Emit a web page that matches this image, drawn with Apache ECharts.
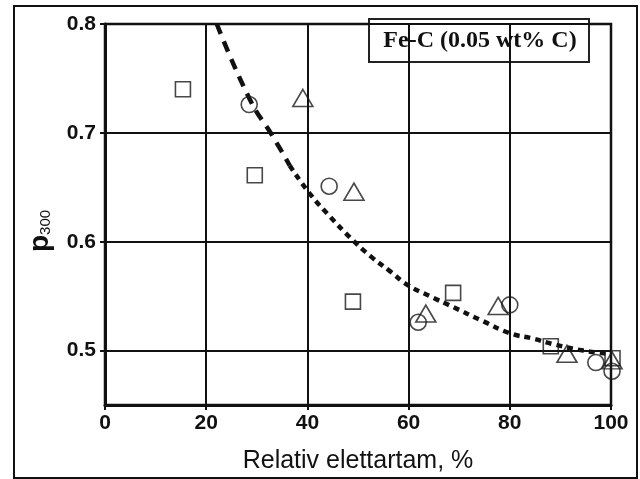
<!DOCTYPE html>
<html><head><meta charset="utf-8">
<script src="https://cdn.jsdelivr.net/npm/echarts@6/dist/echarts.min.js"></script>
<style>html,body{margin:0;padding:0;background:#fff}#c{width:640px;height:479px}</style>
</head><body><div id="c"></div>
<script>
// Data
const squares = [[15.4,0.740],[29.6,0.661],[49.0,0.545],[68.8,0.553],[88.1,0.504],[100.3,0.493]];
const circles = [[28.5,0.726],[44.3,0.651],[61.9,0.526],[80.0,0.542],[97.0,0.489],[100.2,0.481]];
const triangles = [[39.1,0.732],[49.2,0.646],[63.4,0.534],[77.7,0.541],[91.3,0.497],[100.2,0.491]];
// fitted trend curve, upper steep part and lower part
const fitCurveUpper = [[22.1,0.800],[28.7,0.730],[33.0,0.698],[36.5,0.670]];
const fitCurveLower = [[36.5,0.670],[40.5,0.644],[44.5,0.623],[48.4,0.604],[52.4,0.587],[56.3,0.573],[59.9,0.560],[64.2,0.550],[68.8,0.540],[74.7,0.527],[80.0,0.516],[84.6,0.511],[88.5,0.506],[94.5,0.500],[100.0,0.497]];
const xTicks = [0,20,40,60,80,100];
const yTicks = [0.5,0.6,0.7,0.8];
const titleText = 'Fe-C (0.05 wt% C)';
const xName = 'Relativ elettartam, %';

const chart = echarts.init(document.getElementById('c'), null, {renderer:'canvas'});
const markerStyle = {color:'rgba(0,0,0,0)', borderColor:'#1a1a1a', borderWidth:1.6};
const tickFont = {color:'#111', fontFamily:'"Liberation Sans Narrow", "Liberation Sans"', fontWeight:'bold', fontSize:21};
chart.setOption({
  animation:false,
  backgroundColor:'#fff',
  grid:{left:105, right:29, top:24, bottom:72.5, show:true, borderColor:'#111', borderWidth:2.5},
  xAxis:{type:'value', min:0, max:100, interval:20,
    axisLine:{show:true, lineStyle:{color:'#111', width:3}},
    axisTick:{show:true, inside:false, length:5, lineStyle:{color:'#111', width:2}},
    axisLabel:Object.assign({margin:8, customValues:xTicks}, tickFont),
    splitLine:{show:true, lineStyle:{color:'#111', width:2}},
    name:xName, nameLocation:'middle', nameGap:44,
    nameTextStyle:{color:'#111', fontFamily:'Liberation Sans', fontSize:25, verticalAlign:'top'}
  },
  yAxis:{type:'value', min:0.45, max:0.8, interval:0.05,
    axisLine:{show:true, lineStyle:{color:'#111', width:3}},
    axisTick:{show:true, length:5, lineStyle:{color:'#111', width:2}, customValues:yTicks},
    axisLabel:Object.assign({margin:9, customValues:yTicks, formatter:v=>v.toFixed(1)}, tickFont),
    splitLine:{show:true, lineStyle:{color:'#111', width:1.8}}
  },
  graphic:[
    {type:'rect', shape:{x:14,y:6,width:623,height:472}, style:{fill:'none', stroke:'#111', lineWidth:2}, z:100},
    {type:'group', z:120, children:[
      {type:'rect', shape:{x:369,y:19,width:220,height:43}, style:{fill:'#fff', stroke:'#222', lineWidth:2}},
      {type:'text', x:480, y:41, style:{text:titleText, fill:'#111', font:'bold 24px "Liberation Serif"', align:'center', verticalAlign:'middle'}}
    ]},
    {type:'text', x:40, y:231, rotation:Math.PI/2, z:100,
      style:{text:'{p|p}{s|300}', align:'center', verticalAlign:'middle',
        rich:{p:{font:'bold 28px "Liberation Sans"', fill:'#111'},
              s:{font:'15px "Liberation Sans Narrow", "Liberation Sans"', fill:'#111', padding:[12,0,0,0]}}}}
  ],
  series:[
    {type:'line', data:fitCurveUpper, smooth:true, symbol:'none', z:3,
      lineStyle:{color:'#111', width:4.5, type:[11,8]}},
    {type:'line', data:fitCurveLower, smooth:true, symbol:'none', z:3,
      lineStyle:{color:'#111', width:4.5, type:[6,5]}},
    {type:'scatter', data:squares, symbol:'rect', symbolSize:15, itemStyle:markerStyle, clip:false, z:4},
    {type:'scatter', data:circles, symbol:'circle', symbolSize:16, itemStyle:markerStyle, clip:false, z:4},
    {type:'scatter', data:triangles, symbol:'triangle', symbolSize:[20,17], itemStyle:markerStyle, clip:false, z:4}
  ]
});
</script></body></html>
